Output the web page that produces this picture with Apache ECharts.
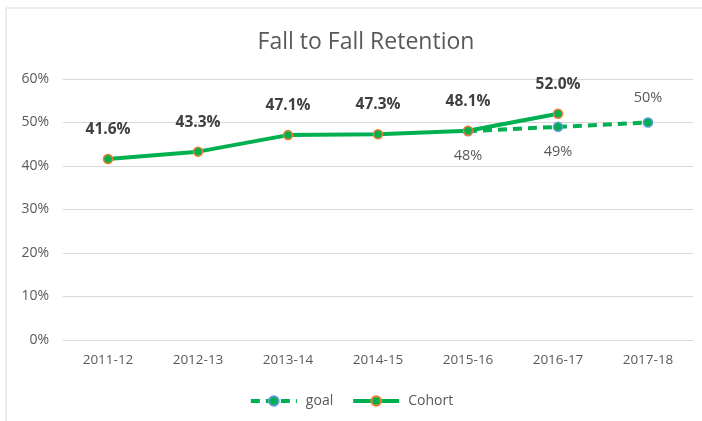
<!DOCTYPE html>
<html><head><meta charset="utf-8">
<script src="https://cdn.jsdelivr.net/npm/echarts@6/dist/echarts.min.js"></script>
<style>html,body{margin:0;padding:0;background:#fff}#c{width:702px;height:421px}</style>
</head><body><div id="c"></div>
<script>
const categories = ['2011-12','2012-13','2013-14','2014-15','2015-16','2016-17','2017-18'];
const goal = [null,null,null,null,0.48,0.49,0.50];
const cohort = [0.416,0.433,0.471,0.473,0.481,0.520,null];
const yTicks = [0,0.1,0.2,0.3,0.4,0.5,0.6];

const chart = echarts.init(document.getElementById('c'), null, {renderer:'canvas'});
const font = '"Open Sans", "Noto Sans", sans-serif';
const goalData = goal.map((v,i)=> i===6 ? {value:v,label:{position:'top',distance:12}} : v);
chart.setOption({
  animation:false,
  backgroundColor:'#fff',
  graphic:[{type:'rect',shape:{x:6,y:8,width:720,height:430},style:{fill:'none',stroke:'#d9d9d9',lineWidth:1},silent:true,z:-1}],
  title:{text:'Fall to Fall Retention',left:361,top:26,textAlign:'center',
    textStyle:{fontFamily:font,fontSize:23,fontWeight:'normal',color:'#595959'}},
  grid:{left:63,right:9,top:79,bottom:81},
  legend:{bottom:8,left:'center',itemWidth:46,itemHeight:12,itemGap:18,
    lineStyle:{width:4},
    textStyle:{fontFamily:font,fontSize:14,color:'#595959',padding:[0,0,0,4]},
    data:['goal','Cohort']},
  xAxis:{type:'category',data:categories,
    axisLine:{lineStyle:{color:'#d9d9d9'}},axisTick:{show:false},
    axisLabel:{fontFamily:font,fontSize:13.5,color:'#595959',margin:13}},
  yAxis:{type:'value',min:0,max:0.6,interval:0.1,
    axisLine:{show:false},axisTick:{show:false},
    splitLine:{lineStyle:{color:'#d9d9d9'}},
    axisLabel:{fontFamily:font,fontSize:14,color:'#595959',margin:14,
      formatter:v=>Math.round(v*100)+'%'}},
  series:[
    {name:'goal',type:'line',data:goalData,connectNulls:false,
      lineStyle:{color:'#00B050',width:4,type:[9,6]},
      itemStyle:{color:'#00B050',borderColor:'#5B9BD5',borderWidth:1.5},
      symbol:'circle',symbolSize:9,
      label:{show:true,fontFamily:font,fontSize:14.5,color:'#595959',
        position:'bottom',distance:12,
        formatter:p=>Math.round(p.value*100)+'%'},
      z:3},
    {name:'Cohort',type:'line',data:cohort,
      lineStyle:{color:'#00B050',width:4},
      itemStyle:{color:'#00B050',borderColor:'#ED7D31',borderWidth:1.5},
      symbol:'circle',symbolSize:9,
      label:{show:true,fontFamily:font,fontSize:15.5,fontWeight:'bold',color:'#404040',
        position:'top',distance:16,
        formatter:p=>(p.value*100).toFixed(1)+'%'},
      z:4}
  ]
});
</script></body></html>
